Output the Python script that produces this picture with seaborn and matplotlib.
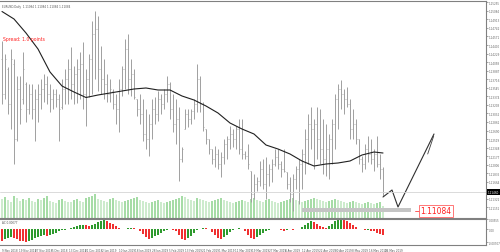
import matplotlib
matplotlib.use("Agg")
import matplotlib.pyplot as plt
import seaborn as sns
import pandas as pd
import numpy as np

# ---------------- data ----------------
highs = [1.1448, 1.1422, 1.1396, 1.1432, 1.1412, 1.1378, 1.1378, 1.1426, 1.1366, 1.1362,
         1.1362, 1.1352, 1.1362, 1.1372, 1.1382, 1.1378, 1.1362, 1.1352, 1.1352, 1.1342,
         1.1372, 1.1392, 1.1412, 1.1436, 1.1398, 1.1412, 1.1426, 1.1446, 1.1392, 1.1422,
         1.1488, 1.1508, 1.1498, 1.1438, 1.1412, 1.1382, 1.1372, 1.1352, 1.1342, 1.1372,
         1.1398, 1.1452, 1.1462, 1.1412, 1.1392, 1.1332, 1.1342, 1.1332, 1.1312, 1.1302,
         1.1332, 1.1336, 1.1348, 1.1342, 1.1352, 1.1378, 1.1366, 1.1342, 1.1332, 1.1316,
         1.1236, 1.1312, 1.1312, 1.1312, 1.1332, 1.1402, 1.1378, 1.1326, 1.1272, 1.1252,
         1.1232, 1.1238, 1.1232, 1.1226, 1.1252, 1.1258, 1.1278, 1.1272, 1.1278, 1.1292,
         1.1292, 1.1228, 1.1242, 1.1188, 1.1182, 1.1176, 1.1208, 1.1212, 1.1216, 1.1202,
         1.1212, 1.1232, 1.1232, 1.1208, 1.1232, 1.1186, 1.1176, 1.1182, 1.1198, 1.1212,
         1.1232, 1.1272, 1.1302, 1.1316, 1.1292, 1.1316, 1.1312, 1.1292, 1.1282, 1.1262,
         1.1292, 1.1342, 1.1362, 1.1370, 1.1352, 1.1356, 1.1332, 1.1312, 1.1292, 1.1252,
         1.1218, 1.1242, 1.1258, 1.1252, 1.1232, 1.1258, 1.1222, 1.1196]
lows = [1.1322, 1.1332, 1.1302, 1.1272, 1.1202, 1.1248, 1.1282, 1.1322, 1.1286, 1.1302,
        1.1292, 1.1248, 1.1286, 1.1312, 1.1326, 1.1322, 1.1306, 1.1312, 1.1316, 1.1248,
        1.1312, 1.1322, 1.1322, 1.1332, 1.1322, 1.1324, 1.1332, 1.1312, 1.1278, 1.1336,
        1.1342, 1.1372, 1.1348, 1.1342, 1.1332, 1.1326, 1.1326, 1.1312, 1.1282, 1.1266,
        1.1338, 1.1352, 1.1342, 1.1338, 1.1332, 1.1298, 1.1282, 1.1248, 1.1232, 1.1218,
        1.1252, 1.1282, 1.1288, 1.1302, 1.1312, 1.1326, 1.1292, 1.1266, 1.1242, 1.1168,
        1.1206, 1.1272, 1.1276, 1.1282, 1.1292, 1.1306, 1.1306, 1.1268, 1.1242, 1.1222,
        1.1202, 1.1196, 1.1192, 1.1176, 1.1202, 1.1212, 1.1232, 1.1236, 1.1232, 1.1222,
        1.1212, 1.1212, 1.1192, 1.1126, 1.1132, 1.1148, 1.1158, 1.1152, 1.1132, 1.1158,
        1.1166, 1.1198, 1.1192, 1.1176, 1.1186, 1.1152, 1.1126, 1.1108, 1.1152, 1.1122,
        1.1152, 1.1182, 1.1202, 1.1232, 1.1192, 1.1212, 1.1202, 1.1182, 1.1178, 1.1172,
        1.1202, 1.1232, 1.1272, 1.1312, 1.1302, 1.1316, 1.1252, 1.1252, 1.1242, 1.1202,
        1.1186, 1.1192, 1.1206, 1.1202, 1.1188, 1.1196, 1.1172, 1.1138]
opens = [1.1412, 1.1342, 1.1392, 1.1322, 1.1402, 1.1252, 1.1352, 1.1332, 1.1362, 1.1312,
         1.1342, 1.1312, 1.1332, 1.1342, 1.1352, 1.1362, 1.1342, 1.1332, 1.1342, 1.1332,
         1.1316, 1.1352, 1.1372, 1.1392, 1.1362, 1.1382, 1.1392, 1.1402, 1.1342, 1.1372,
         1.1412, 1.1462, 1.1472, 1.1392, 1.1372, 1.1362, 1.1342, 1.1348, 1.1322, 1.1312,
         1.1352, 1.1392, 1.1432, 1.1372, 1.1382, 1.1332, 1.1312, 1.1302, 1.1262, 1.1252,
         1.1282, 1.1312, 1.1302, 1.1332, 1.1322, 1.1342, 1.1362, 1.1312, 1.1282, 1.1292,
         1.1212, 1.1272, 1.1302, 1.1292, 1.1308, 1.1322, 1.1372, 1.1322, 1.1272, 1.1252,
         1.1232, 1.1212, 1.1222, 1.1202, 1.1216, 1.1242, 1.1252, 1.1262, 1.1252, 1.1272,
         1.1232, 1.1222, 1.1218, 1.1188, 1.1142, 1.1162, 1.1168, 1.1192, 1.1162, 1.1182,
         1.1192, 1.1202, 1.1216, 1.1202, 1.1192, 1.1186, 1.1162, 1.1142, 1.1172, 1.1192,
         1.1202, 1.1222, 1.1252, 1.1282, 1.1272, 1.1282, 1.1252, 1.1232, 1.1212, 1.1232,
         1.1252, 1.1282, 1.1332, 1.1352, 1.1342, 1.1332, 1.1322, 1.1272, 1.1282, 1.1252,
         1.1212, 1.1202, 1.1232, 1.1222, 1.1212, 1.1222, 1.1202, 1.1192]
closes = [1.1342, 1.1412, 1.1322, 1.1412, 1.1252, 1.1352, 1.1312, 1.1392, 1.1312, 1.1342,
          1.1312, 1.1332, 1.1342, 1.1352, 1.1362, 1.1342, 1.1332, 1.1342, 1.1332, 1.1312,
          1.1352, 1.1372, 1.1392, 1.1362, 1.1382, 1.1392, 1.1402, 1.1342, 1.1372, 1.1412,
          1.1462, 1.1472, 1.1392, 1.1372, 1.1362, 1.1342, 1.1352, 1.1322, 1.1312, 1.1352,
          1.1392, 1.1432, 1.1372, 1.1382, 1.1336, 1.1312, 1.1302, 1.1262, 1.1252, 1.1282,
          1.1312, 1.1302, 1.1332, 1.1322, 1.1342, 1.1362, 1.1312, 1.1282, 1.1292, 1.1212,
          1.1232, 1.1302, 1.1292, 1.1308, 1.1322, 1.1372, 1.1322, 1.1276, 1.1252, 1.1232,
          1.1212, 1.1222, 1.1202, 1.1216, 1.1242, 1.1252, 1.1262, 1.1252, 1.1272, 1.1232,
          1.1222, 1.1218, 1.1202, 1.1142, 1.1162, 1.1168, 1.1192, 1.1162, 1.1182, 1.1192,
          1.1202, 1.1216, 1.1202, 1.1192, 1.1188, 1.1162, 1.1142, 1.1172, 1.1192, 1.1202,
          1.1222, 1.1252, 1.1282, 1.1272, 1.1282, 1.1252, 1.1232, 1.1212, 1.1232, 1.1252,
          1.1282, 1.1332, 1.1352, 1.1342, 1.1332, 1.1322, 1.1272, 1.1282, 1.1252, 1.1212,
          1.1202, 1.1232, 1.1222, 1.1212, 1.1222, 1.1202, 1.1192, 1.1146]
volumes = [95000, 105000, 90000, 80000, 110000, 100000, 85000, 95000, 90000, 100000,
           85000, 80000, 95000, 90000, 100000, 110000, 85000, 80000, 75000, 90000,
           95000, 85000, 80000, 80000, 90000, 95000, 85000, 80000, 100000, 105000,
           110000, 120000, 95000, 90000, 85000, 80000, 95000, 100000, 90000, 85000,
           80000, 85000, 90000, 95000, 100000, 105000, 90000, 85000, 80000, 75000,
           80000, 85000, 90000, 80000, 75000, 80000, 85000, 90000, 95000, 100000,
           110000, 105000, 95000, 90000, 85000, 100000, 95000, 90000, 85000, 80000,
           85000, 90000, 95000, 100000, 90000, 85000, 80000, 75000, 80000, 85000,
           90000, 85000, 80000, 95000, 100000, 90000, 85000, 80000, 90000, 95000,
           85000, 80000, 75000, 80000, 85000, 90000, 95000, 100000, 90000, 85000,
           80000, 85000, 90000, 95000, 100000, 95000, 90000, 85000, 80000, 85000,
           90000, 95000, 90000, 85000, 80000, 75000, 80000, 85000, 80000, 75000,
           70000, 75000, 80000, 75000, 70000, 75000, 80000, 60000]
ac_values = [-6.0, -5.2, -4.5, -4.0, -4.6, -5.3, -6.0, -6.4, -6.6, -6.2,
             -5.5, -4.8, -4.0, -3.6, -3.2, -3.5, -3.0, -2.4, -1.8, -1.0,
             -0.5, -0.2, 0.3, 0.8, 1.5, 2.0, 2.2, 2.4, 2.3, 2.0,
             2.5, 3.2, 4.0, 4.8, 5.2, 4.5, 3.8, 3.0, 2.0, 1.0,
             0.5, 0.2, 0.6, 1.0, 0.8, 0.2, -1.0, -2.5, -4.0, -5.0,
             -4.5, -3.8, -2.8, -1.8, -0.8, -0.2, 0.0, -0.5, -1.0, -3.0,
             -5.0, -5.5, -4.5, -3.5, -2.0, -0.5, 0.5, 1.0, 0.6, 0.1,
             -1.5, -3.0, -4.5, -5.0, -4.0, -3.0, -1.5, -0.5, 0.5, 1.0,
             0.5, -1.0, -3.0, -4.5, -5.0, -4.0, -3.0, -2.0, -1.0, -0.5,
             0.0, 0.3, 0.0, -0.5, -0.8, -0.4, 0.0, -0.5, 0.0, 0.5,
             1.5, 2.5, 3.5, 4.5, 4.0, 3.0, 2.0, 1.5, 1.0, 1.8,
             3.0, 4.5, 5.5, 6.0, 5.5, 4.5, 3.5, 2.5, 1.5, 0.5,
             0.2, -0.5, -0.3, -0.6, -1.0, -1.8, -2.5, -3.2]   # x 0.001
ma_index = [0, 4, 8, 12, 16, 20, 24, 28, 32, 36, 40, 44, 48, 52, 56, 60, 64, 68, 72,
            76, 80, 84, 88, 92, 96, 100, 104, 108, 112, 116, 120, 124, 127]
ma_values = [1.1507, 1.1492, 1.1464, 1.1432, 1.1386, 1.1358, 1.1346, 1.1335, 1.1340,
             1.1344, 1.1348, 1.1352, 1.1354, 1.1350, 1.1350, 1.1338, 1.1330, 1.1318,
             1.1304, 1.1284, 1.1272, 1.1262, 1.1240, 1.1232, 1.1222, 1.1208, 1.1198,
             1.1202, 1.1204, 1.1208, 1.1220, 1.1226, 1.1224]
proj_index = [127, 130, 132, 144]
proj_values = [1.1136, 1.1150, 1.1116, 1.1262]
proj2_index = [141.9, 143.9]
proj2_values = [1.1222, 1.1258]
price_ticks = [1.15255, 1.15084, 1.14913, 1.14742, 1.14571, 1.14400, 1.14229, 1.14058,
               1.13887, 1.13716, 1.13545, 1.13374, 1.13203, 1.13032, 1.12861, 1.12690,
               1.12519, 1.12348, 1.12177, 1.12006, 1.11835, 1.11664, 1.11322, 1.11151]
ac_ticks = [0.00555, 0.0, -0.00707]
date_labels = ["9 Nov 2018", "19 Nov 2018", "27 Nov 2018", "5 Dec 2018", "13 Dec 2018",
               "21 Dec 2018", "2 Jan 2019", "10 Jan 2019", "18 Jan 2019", "28 Jan 2019",
               "5 Feb 2019", "13 Feb 2019", "21 Feb 2019", "1 Mar 2019", "11 Mar 2019",
               "19 Mar 2019", "27 Mar 2019", "4 Apr 2019", "12 Apr 2019", "22 Apr 2019",
               "30 Apr 2019", "8 May 2019", "16 May 2019", "24 May 2019"]
date_pos = [0, 5.6, 11.1, 16.7, 22.2, 27.8, 33.3, 38.9, 44.4, 50, 55.6, 61.1, 66.7, 72.2,
            77.8, 83.3, 88.9, 94.4, 100, 105.6, 111.1, 116.7, 122.2, 127.8]
last_price = 1.11084
bid_price = 1.11460
band_start, band_end, band_lo, band_hi = 100, 136.3, 1.1106, 1.1114
title = "EURUSD,Daily  1.11084 1.11084 1.11084 1.11084"
spread_text = "Spread: 1.0 points"

# ---------------- figure ----------------
sns.set_theme(style="white")
plt.rcParams['font.family'] = ['DejaVu Sans']
W, H = 500, 253
fig = plt.figure(figsize=(W / 100, H / 100), dpi=100)
fig.patch.set_facecolor("white")

def rect(x0, y0, x1, y1):
    return [x0 / W, 1 - y1 / H, (x1 - x0) / W, (y1 - y0) / H]

xl = (-2 / 3, 486 / 3 - 2 / 3)
n = len(highs)
idx = np.arange(n)
PLO, PHI = 1.1095, 1.1529

# volume axes (behind the price bars)
axv = fig.add_axes(rect(0, 1.5, 486, 218.5))
vcol = ["#a6dca6" if (i > 0 and volumes[i] > volumes[i - 1]) else "#cdebcd" for i in range(n)]
axv.bar(idx, volumes, width=0.55, color=vcol, linewidth=0)
axv.set_xlim(*xl)
axv.set_ylim(0, 217 * 5000)
axv.axis("off")

ax = fig.add_axes(rect(0, 1.5, 486, 218.5))
ax.set_facecolor("none")
bar_col = "#a0a0a0"
ax.vlines(idx, lows, highs, color=bar_col, linewidth=0.7)
ax.hlines(opens, idx - 0.4, idx, color=bar_col, linewidth=0.5)
ax.hlines(closes, idx, idx + 0.4, color=bar_col, linewidth=0.5)
df_ma = pd.DataFrame({"i": ma_index, "v": ma_values})
sns.lineplot(data=df_ma, x="i", y="v", ax=ax, color="#202020", linewidth=0.8)
df_pr = pd.DataFrame({"i": proj_index, "v": proj_values})
sns.lineplot(data=df_pr, x="i", y="v", ax=ax, color="#303030", linewidth=0.8)
df_pr2 = pd.DataFrame({"i": proj2_index, "v": proj2_values})
sns.lineplot(data=df_pr2, x="i", y="v", ax=ax, color="#404040", linewidth=0.6)
ax.set_xlabel("")
ax.set_ylabel("")
ax.axhline(bid_price, color="#d4d4d4", linewidth=0.6)
ax.fill_between([band_start, band_end], band_lo, band_hi, color="#c4c4c4", linewidth=0)
ax.text(139.4, last_price, "1.11084", color="#ff2020", fontsize=5.5, va="center", ha="left",
        bbox=dict(boxstyle="square,pad=0.2", fc="white", ec="#ff6060", lw=0.6))
ax.plot([137.8, 139.2], [last_price, last_price], color="#ff4040", lw=0.6)
ax.text(0.004, 0.985, title, transform=ax.transAxes, fontsize=2.0, color="#555555",
        va="top", ha="left")
ax.text(0.006, 0.825, spread_text, transform=ax.transAxes, fontsize=3.3, color="#ff2020",
        va="center", ha="left")
ax.set_xlim(*xl)
ax.set_ylim(PLO, PHI)
ax.yaxis.tick_right()
ax.set_yticks(price_ticks)
ax.set_yticklabels([f"{t:.5f}" for t in price_ticks])
ax.tick_params(axis="y", labelsize=2.0, colors="#666666", length=1.2, width=0.4, pad=0.8)
ax.set_xticks([])
for s in ["top", "right", "bottom"]:
    ax.spines[s].set_color("#808080")
    ax.spines[s].set_linewidth(0.8)
ax.spines["left"].set_visible(False)
ax.text(1.004, (bid_price - PLO) / (PHI - PLO), f"{bid_price:.5f}",
        transform=ax.transAxes, fontsize=2.0, color="white", va="center", ha="left",
        bbox=dict(boxstyle="square,pad=0.2", fc="black", ec="black", lw=0))

# AC panel
axac = fig.add_axes(rect(0, 219.5, 486, 246))
accol = ["#2e9a2e" if (i > 0 and ac_values[i] > ac_values[i - 1]) else "#f03030" for i in range(n)]
axac.bar(idx, np.array(ac_values) / 1000, width=0.45, color=accol, linewidth=0)
axac.set_xlim(*xl)
axac.set_ylim(-0.00843, 0.00598)
axac.yaxis.tick_right()
axac.set_yticks(ac_ticks)
axac.set_yticklabels(["0.00555", "0.00", "-0.00707"])
axac.tick_params(axis="y", labelsize=2.0, colors="#666666", length=1.2, width=0.4, pad=0.8)
axac.set_xticks(date_pos)
axac.set_xticklabels(date_labels)
axac.tick_params(axis="x", labelsize=2.0, colors="#555555", length=1.2, width=0.4, pad=1)
for lab in axac.get_xticklabels():
    lab.set_ha("left")
for s in axac.spines.values():
    s.set_color("#808080")
    s.set_linewidth(0.8)
axac.spines["left"].set_visible(False)
axac.text(0.004, 0.93, "AC 0.00077", transform=axac.transAxes, fontsize=2.0,
          color="#555555", va="top", ha="left")

fig.savefig("out.png", dpi=100, facecolor="white")
